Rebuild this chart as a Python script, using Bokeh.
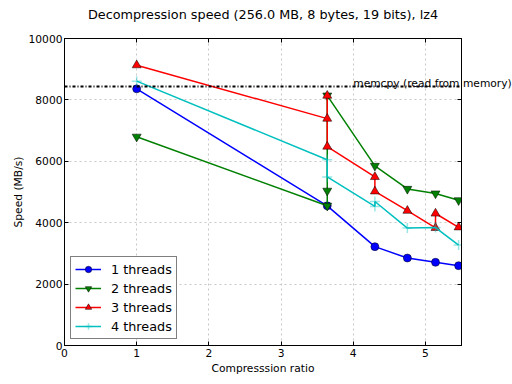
from bokeh.plotting import figure
from bokeh.models import Legend, LegendItem, Label, FixedTicker, Span, Range1d, LinearAxis
from bokeh.embed import file_html
from bokeh.resources import INLINE

# ---- data ----
x1 = [1.0, 3.64, 4.30, 4.75, 5.14, 5.46]
y1 = [8360, 4550, 3220, 2850, 2710, 2600]

x2 = [1.0, 3.64, 3.64, 3.64, 4.30, 4.75, 5.14, 5.46]
y2 = [6800, 4550, 5040, 8140, 5850, 5100, 4950, 4730]

x3 = [1.0, 3.64, 3.64, 3.64, 4.30, 4.30, 4.75, 5.14, 5.14, 5.46]
y3 = [9130, 7390, 8140, 6480, 5490, 5020, 4390, 3830, 4300, 3850]

x4 = [1.0, 3.64, 3.64, 4.30, 4.30, 4.75, 5.14, 5.46]
y4 = [8610, 6050, 5490, 4530, 4690, 3825, 3840, 3270]

memcpy_speed = 8440
memcpy_text = "memcpy (read from memory)"
memcpy_text_x = 4.0

x_ticks = [0, 1, 2, 3, 4, 5]
y_ticks = [0, 2000, 4000, 6000, 8000, 10000]
x_max = 5.5
y_max = 10000

title = "Decompression speed (256.0 MB, 8 bytes, 19 bits), lz4"
x_label = "Compresssion ratio"
y_label = "Speed (MB/s)"
series_names = ["1 threads", "2 threads", "3 threads", "4 threads"]

FONT = "DejaVu Sans"

p = figure(output_backend="svg", toolbar_location=None,
           frame_width=397, frame_height=307,
           min_border_left=64, min_border_right=51,
           min_border_top=38, min_border_bottom=39,
           x_range=Range1d(0, x_max), y_range=Range1d(0, y_max),
           title=title)

p.title.align = "center"
p.title.text_font = FONT
p.title.text_font_size = "12.8px"
p.title.text_font_style = "normal"
p.title.text_color = "black"
p.title.standoff = 8

p.background_fill_color = "white"
p.border_fill_color = "white"
p.outline_line_color = "black"
p.outline_line_width = 1

for ax in (p.xaxis[0], p.yaxis[0]):
    ax.axis_line_color = "black"
    ax.major_tick_in = 4
    ax.major_tick_out = 0
    ax.minor_tick_in = 0
    ax.minor_tick_out = 0
    ax.major_label_text_font = FONT
    ax.major_label_text_font_size = "10.7px"
    ax.major_label_text_color = "black"
    ax.axis_label_text_font = FONT
    ax.axis_label_text_font_size = "10.7px"
    ax.axis_label_text_font_style = "normal"
    ax.axis_label_text_color = "black"

p.xaxis.major_label_standoff = 3
p.xaxis.axis_label_standoff = 2
p.yaxis.major_label_standoff = 2
p.yaxis.axis_label_standoff = 1

p.xaxis.ticker = FixedTicker(ticks=x_ticks)
p.yaxis.ticker = FixedTicker(ticks=y_ticks)
p.xaxis.axis_label = x_label
p.yaxis.axis_label = y_label

# tick marks on the top and right edges (no labels)
top_ax = LinearAxis(ticker=FixedTicker(ticks=x_ticks), major_tick_in=4, major_tick_out=0,
                    minor_tick_in=0, minor_tick_out=0, axis_line_color="black",
                    major_label_text_font_size="1px", major_label_text_color=None,
                    major_label_standoff=0)
right_ax = LinearAxis(ticker=FixedTicker(ticks=y_ticks), major_tick_in=4, major_tick_out=0,
                      minor_tick_in=0, minor_tick_out=0, axis_line_color="black",
                      major_label_text_font_size="1px", major_label_text_color=None,
                      major_label_standoff=0)
p.add_layout(top_ax, "above")
p.add_layout(right_ax, "right")

for g in (p.xgrid[0], p.ygrid[0]):
    g.grid_line_color = "#c8c8c8"
    g.grid_line_dash = "2 3"
    g.grid_line_width = 1

# memcpy reference line
span = Span(location=memcpy_speed, dimension="width", line_color="black",
            line_width=2, line_dash="3 2 1 2")
p.add_layout(span)
# placed in a side panel so that it is not clipped to the plot frame
p.add_layout(Label(x=memcpy_text_x, y=memcpy_speed, text=memcpy_text,
                   text_font=FONT, text_font_size="10.7px",
                   text_baseline="alphabetic", y_offset=3, text_color="black"),
             "above")

items = []
l1 = p.line(x1, y1, line_color="#0000ff", line_width=1.5)
m1 = p.scatter(x1, y1, marker="circle", size=8, fill_color="#0000ff",
               line_color="black", line_width=0.5)
items.append(LegendItem(label=series_names[0], renderers=[l1, m1]))

l2 = p.line(x2, y2, line_color="#008000", line_width=1.5)
m2 = p.scatter(x2, y2, marker="inverted_triangle", size=9, fill_color="#008000",
               line_color="black", line_width=0.5)
items.append(LegendItem(label=series_names[1], renderers=[l2, m2]))

l3 = p.line(x3, y3, line_color="#ff0000", line_width=1.5)
m3 = p.scatter(x3, y3, marker="triangle", size=9, fill_color="#ff0000",
               line_color="black", line_width=0.5)
items.append(LegendItem(label=series_names[2], renderers=[l3, m3]))

l4 = p.line(x4, y4, line_color="#00bfbf", line_width=1.5)
m4 = p.scatter(x4, y4, marker="cross", size=10, line_color="#00bfbf",
               line_alpha=0.4, line_width=1.5)
items.append(LegendItem(label=series_names[3], renderers=[l4, m4]))

legend = Legend(items=items, location=(6, 6), margin=0, padding=4, spacing=3,
                glyph_width=26, glyph_height=16, label_height=16,
                label_standoff=10,
                label_text_font=FONT, label_text_font_size="12.8px",
                label_text_color="black",
                border_line_color="black", border_line_width=1,
                background_fill_color="white", background_fill_alpha=1)
p.add_layout(legend, "center")

open("out.html", "w").write(file_html(p, INLINE))
